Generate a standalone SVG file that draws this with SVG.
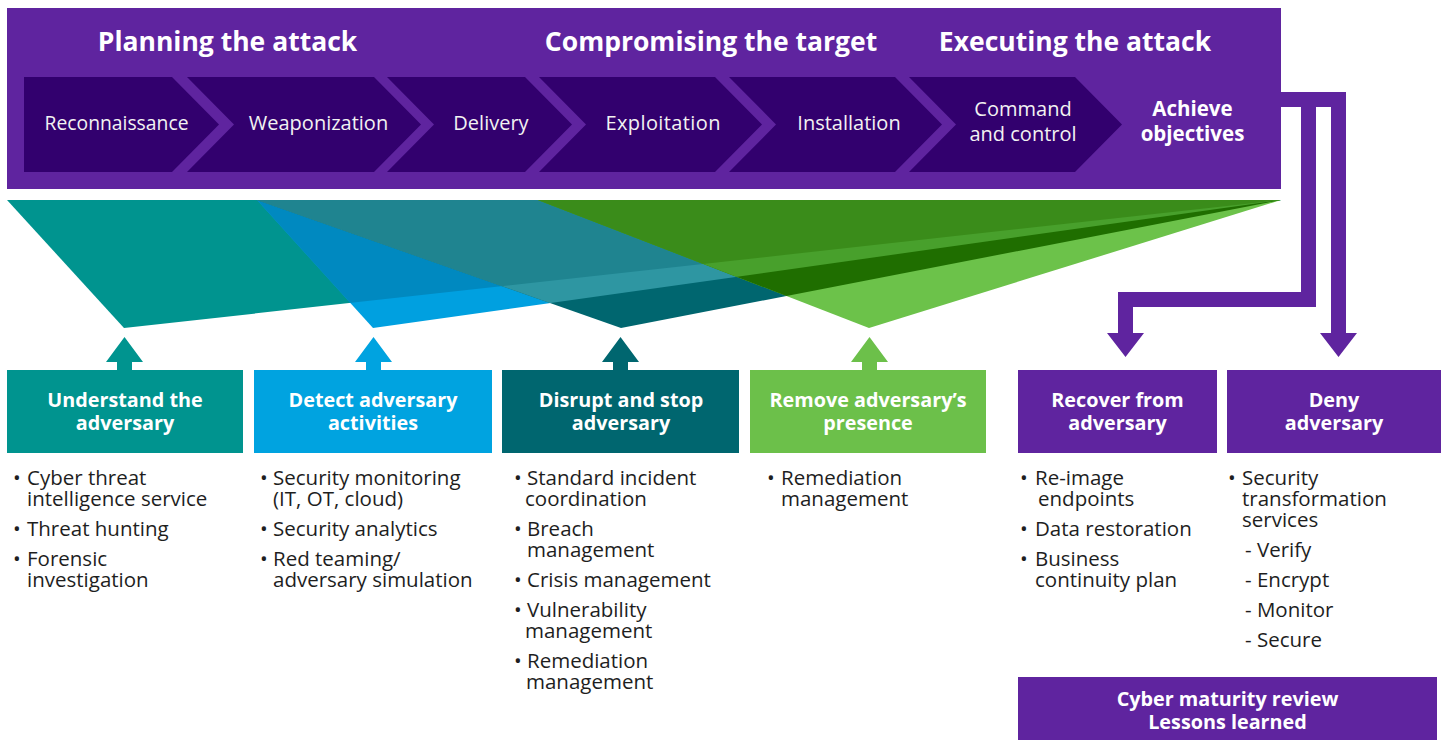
<svg xmlns="http://www.w3.org/2000/svg" width="1445" height="740" viewBox="0 0 1445 740">
<defs>
<style>
.hdr{font-family:"Open Sans","Noto Sans","Liberation Sans",sans-serif;font-weight:700;font-size:26.5px;fill:#fff;text-anchor:middle}
.chv{font-family:"Open Sans","Noto Sans","Liberation Sans",sans-serif;font-size:20px;fill:#f2f2f2;text-anchor:middle}
.chb{font-family:"Open Sans","Noto Sans","Liberation Sans",sans-serif;font-weight:700;font-size:20.5px;fill:#fff;text-anchor:middle}
.ttl{font-family:"Open Sans","Noto Sans","Liberation Sans",sans-serif;font-weight:700;font-size:19.8px;fill:#fff;text-anchor:middle}
.bul{font-family:"Open Sans","Noto Sans","Liberation Sans",sans-serif;font-size:20.5px;fill:#1e1e1e}
.dark{fill:#32006e}
.purple{fill:#5f249f}
</style>
<clipPath id="clipA"><polygon points="7,200 1281,200 124,328"/></clipPath>
<clipPath id="clipB"><polygon points="257,200 1281,200 373,328"/></clipPath>
<clipPath id="clipC"><polygon points="257,200 1281,200 621,328"/></clipPath>
</defs>

<g id="banner">
<rect class="purple" x="7" y="8" width="1274" height="181"/>
<text class="hdr" x="227.5" y="51">Planning the attack</text>
<text class="hdr" x="711" y="51">Compromising the target</text>
<text class="hdr" x="1075" y="51">Executing the attack</text>
</g>

<g id="reconnaissance">
<polygon class="dark" points="24,77 172,77 219,124.5 172,172 24,172"/>
<text class="chv" x="116.5" y="130" textLength="144" lengthAdjust="spacingAndGlyphs">Reconnaissance</text>
</g>
<g id="weaponization">
<polygon class="dark" points="187,77 374,77 421,124.5 374,172 187,172 234,124.5"/>
<text class="chv" x="318.5" y="130">Weaponization</text>
</g>
<g id="delivery">
<polygon class="dark" points="387,77 525,77 572,124.5 525,172 387,172 434,124.5"/>
<text class="chv" x="491" y="130">Delivery</text>
</g>
<g id="exploitation">
<polygon class="dark" points="539,77 715,77 762,124.5 715,172 539,172 586,124.5"/>
<text class="chv" x="663" y="130" textLength="115" lengthAdjust="spacing">Exploitation</text>
</g>
<g id="installation">
<polygon class="dark" points="729,77 895,77 942,124.5 895,172 729,172 776,124.5"/>
<text class="chv" x="849" y="130">Installation</text>
</g>
<g id="command-and-control">
<polygon class="dark" points="909,77 1075,77 1122,124.5 1075,172 909,172 956,124.5"/>
<text class="chv" x="1023" y="116">Command</text>
<text class="chv" x="1023" y="141">and control</text>
</g>
<g id="achieve-objectives">
<text class="chb" x="1192.5" y="116">Achieve</text>
<text class="chb" x="1192.5" y="141">objectives</text>
</g>

<g id="funnels">
<polygon fill="#00948f" points="7,200 1281,200 124,328"/>
<polygon fill="#00a0e0" points="257,200 1281,200 373,328"/>
<polygon fill="#0089c0" points="257,200 1281,200 373,328" clip-path="url(#clipA)"/>
<polygon fill="#00666f" points="257,200 1281,200 621,328"/>
<polygon fill="#2e96a2" points="257,200 1281,200 621,328" clip-path="url(#clipB)"/>
<polygon fill="#1f8490" points="257,200 1281,200 621,328" clip-path="url(#clipA)"/>
<polygon fill="#6cc24a" points="538,200 1281,200 869,328"/>
<polygon fill="#1f6e00" points="538,200 1281,200 869,328" clip-path="url(#clipC)"/>
<polygon fill="#48a02c" points="538,200 1281,200 869,328" clip-path="url(#clipB)"/>
<polygon fill="#3a8c1a" points="538,200 1281,200 869,328" clip-path="url(#clipA)"/>
</g>

<g id="connectors">
<polygon fill="#00948f" points="117,370 117,362 106,362 124.5,337 143,362 132,362 132,370"/>
<polygon fill="#00a3e0" points="366,370 366,362 355,362 373.5,337 392,362 381,362 381,370"/>
<polygon fill="#00666f" points="613,370 613,362 602,362 620.5,337 639,362 628,362 628,370"/>
<polygon fill="#6cc04a" points="862,370 862,362 851,362 869.5,337 888,362 877,362 877,370"/>
<polygon class="purple" points="1281,92 1346,92 1346,333 1357,333 1338.5,357 1320,333 1331,333 1331,107 1281,107"/>
<polygon class="purple" points="1301,107 1316,107 1316,307 1133,307 1133,333 1144,333 1125.5,357 1107,333 1118,333 1118,292 1301,292"/>
</g>

<g id="understand">
<rect fill="#00948f" x="7" y="370" width="236" height="83"/>
<text class="ttl" x="125" y="407">Understand the</text>
<text class="ttl" x="125" y="430">adversary</text>
<text class="bul"><tspan x="13" y="485">•</tspan><tspan x="27">Cyber threat</tspan><tspan x="27" y="506">intelligence service</tspan><tspan x="13" y="536">•</tspan><tspan x="27">Threat hunting</tspan><tspan x="13" y="566">•</tspan><tspan x="27">Forensic</tspan><tspan x="27" y="587">investigation</tspan></text>
</g>

<g id="detect">
<rect fill="#00a3e0" x="254" y="370" width="238" height="83"/>
<text class="ttl" x="373" y="407">Detect adversary</text>
<text class="ttl" x="373" y="430">activities</text>
<text class="bul"><tspan x="260" y="485">•</tspan><tspan x="273">Security monitoring</tspan><tspan x="273" y="506">(IT, OT, cloud)</tspan><tspan x="260" y="536">•</tspan><tspan x="273">Security analytics</tspan><tspan x="260" y="566">•</tspan><tspan x="273">Red teaming/</tspan><tspan x="273" y="587">adversary simulation</tspan></text>
</g>

<g id="disrupt">
<rect fill="#00666f" x="502" y="370" width="237" height="83"/>
<text class="ttl" x="621" y="407">Disrupt and stop</text>
<text class="ttl" x="621" y="430">adversary</text>
<text class="bul"><tspan x="514" y="485">•</tspan><tspan x="527">Standard incident</tspan><tspan x="525" y="506">coordination</tspan><tspan x="514" y="536">•</tspan><tspan x="527">Breach</tspan><tspan x="527" y="557">management</tspan><tspan x="514" y="587">•</tspan><tspan x="527">Crisis management</tspan><tspan x="514" y="617">•</tspan><tspan x="527">Vulnerability</tspan><tspan x="525" y="638">management</tspan><tspan x="514" y="668">•</tspan><tspan x="527">Remediation</tspan><tspan x="526" y="689">management</tspan></text>
</g>

<g id="remove">
<rect fill="#6cc04a" x="750" y="370" width="236" height="83"/>
<text class="ttl" x="868" y="407">Remove adversary’s</text>
<text class="ttl" x="868" y="430">presence</text>
<text class="bul"><tspan x="767" y="485">•</tspan><tspan x="781">Remediation</tspan><tspan x="781" y="506">management</tspan></text>
</g>

<g id="recover">
<rect class="purple" x="1018" y="370" width="199" height="83"/>
<text class="ttl" x="1117.5" y="407">Recover from</text>
<text class="ttl" x="1117.5" y="430">adversary</text>
<text class="bul"><tspan x="1020" y="485">•</tspan><tspan x="1035">Re-image</tspan><tspan x="1038" y="506">endpoints</tspan><tspan x="1020" y="536">•</tspan><tspan x="1035">Data restoration</tspan><tspan x="1020" y="566">•</tspan><tspan x="1035">Business</tspan><tspan x="1035" y="587">continuity plan</tspan></text>
</g>

<g id="deny">
<rect class="purple" x="1227" y="370" width="214" height="83"/>
<text class="ttl" x="1334" y="407">Deny</text>
<text class="ttl" x="1334" y="430">adversary</text>
<text class="bul"><tspan x="1228" y="485">•</tspan><tspan x="1242">Security</tspan><tspan x="1242" y="506">transformation</tspan><tspan x="1242" y="527">services</tspan><tspan x="1245" y="557">- Verify</tspan><tspan x="1245" y="587">- Encrypt</tspan><tspan x="1245" y="617">- Monitor</tspan><tspan x="1245" y="647">- Secure</tspan></text>
</g>

<g id="review">
<rect class="purple" x="1018" y="677" width="419" height="70"/>
<text class="ttl" x="1227.5" y="706">Cyber maturity review</text>
<text class="ttl" x="1227.5" y="729">Lessons learned</text>
</g>
</svg>
